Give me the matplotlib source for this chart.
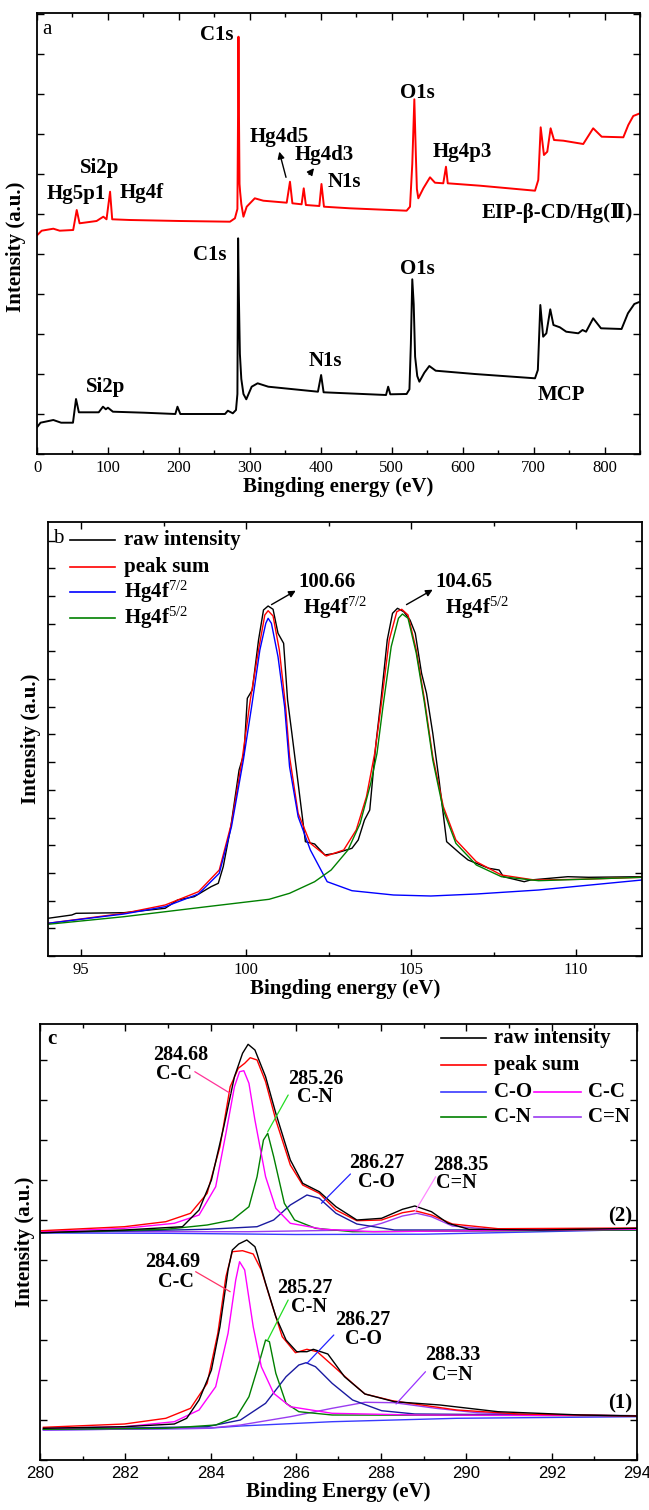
import matplotlib
matplotlib.use("Agg")
import matplotlib.pyplot as plt
from matplotlib.ticker import MultipleLocator

plt.rcParams['font.family'] = ['Liberation Serif', 'DejaVu Serif', 'Noto Sans CJK SC']
plt.rcParams['mathtext.fontset'] = 'custom'
plt.rcParams['mathtext.rm'] = 'Liberation Serif'
plt.rcParams['mathtext.it'] = 'Liberation Serif:italic'
plt.rcParams['mathtext.bf'] = 'Liberation Serif:bold'

# ---------------- panel a : survey spectra ----------------
red_x = [0.5, 6.6, 23, 32, 51, 56, 60, 84, 93.5, 98, 103, 106, 131, 201.6, 272, 279,
         282.5, 283.3, 284, 284.8, 285.5, 286.3, 288, 291, 295.6, 307, 319, 352, 356.6,
         360, 373, 376, 379, 398, 401, 404.5, 441, 521, 525.8, 529, 531.9, 534, 535.5,
         537.5, 544.6, 554, 561, 572.7, 576.5, 579, 624.5, 702, 706.6, 710, 714.6, 719.3,
         724, 728.8, 742, 770, 784, 796, 826.5, 833.5, 840.5, 850]
red_y = [219, 223.3, 225.3, 223.3, 224, 244, 230.7, 233, 237.3, 234.7, 262.3, 234.7, 234,
         233, 232.3, 235.7, 245, 330, 417.3, 330, 270, 262.3, 250, 237.3, 247.3, 255.7,
         253.3, 251.3, 272.3, 250.7, 249.7, 265.7, 249, 248, 270, 247.3, 245.7, 243.3,
         247.3, 290, 354.7, 300, 265, 255.7, 265.7, 276.7, 271.3, 270.7, 287.3, 270.7,
         268.3, 263.3, 274, 326.7, 299, 302.3, 325.7, 314, 313.3, 310, 325.7, 317.3,
         316.7, 329, 338, 340.7]

black_x = [0, 5, 23, 34, 50.7, 55, 59, 87, 93, 97, 100, 107, 151, 195, 198, 202, 265,
           269, 276, 280.5, 282.5, 283.5, 284.5, 286, 288, 291, 295, 302.6, 311, 326, 396,
           400.5, 404, 492, 495, 498, 521, 525, 527, 529, 531, 533, 536, 539, 546, 553,
           562, 617, 702, 706, 709.5, 713.5, 718, 723.5, 728, 737, 746, 763, 769, 774,
           784, 795, 824, 833, 842, 850]
black_y = [26.7, 31.3, 34, 31.3, 31.3, 55, 41.7, 41.7, 47.3, 44.7, 46.3, 42.3, 41.3, 40,
           47.3, 40, 40, 43.3, 40.7, 44, 60, 215.7, 160, 100, 75, 60, 54.7, 67.3, 70.7,
           67.3, 62.3, 79, 61.7, 59, 67.3, 59.7, 60, 64.7, 110, 174.7, 150, 97.3, 78, 72.3,
           81.3, 88, 83.3, 80, 75.7, 84, 149, 117.3, 120.7, 144.7, 129, 126.7, 122.3,
           120.7, 124, 122.3, 135.7, 125.7, 125, 140.7, 150, 152.3]

# peak labels: text, x (eV), y
labels_a = [("C1s", 253, 419), ("Hg4d5", 342, 317), ("Hg4d3", 404.6, 299),
            ("N1s", 432.6, 272), ("Si2p", 88, 285.7), ("Hg5p1", 55, 260),
            ("Hg4f", 148, 260.7), ("O1s", 536, 360.7), ("Hg4p3", 599, 302.3),
            ("EIP-β-CD/Hg(Ⅱ)", 733, 240.7),
            ("C1s", 244, 199), ("N1s", 406, 93.3), ("O1s", 536, 184.7),
            ("Si2p", 97, 67.3), ("MCP", 739, 59)]
arrows_a = [((340.5, 305), (352, 274)), ((393, 288), (381, 277.3))]

# ---------------- panel b : Hg 4f ----------------
b_raw_x = [94.0, 94.72, 94.85, 96.3, 97.55, 97.93, 98.43, 98.94, 99.16, 99.31, 99.54,
           99.79, 99.94, 100.04, 100.19, 100.38, 100.53, 100.67, 100.82, 100.97, 101.14,
           101.26, 101.39, 101.58, 101.8, 102.08, 102.39, 102.71, 103.21, 103.4, 103.59,
           103.75, 103.9, 103.95, 104.09, 104.28, 104.44, 104.59, 104.78, 104.97, 105.13,
           105.32, 105.47, 105.66, 105.85, 106.08, 106.48, 106.73, 107.36, 107.67, 107.8,
           108.43, 108.62, 109.75, 110.38, 112.0]
b_raw_y = [37.7, 41, 42.7, 43.3, 47.7, 56, 59.3, 69.3, 72.7, 89.3, 129.3, 186, 202.7,
           257.7, 266, 316, 346, 350, 346.7, 322.7, 312.7, 256, 222.7, 172.7, 114.3, 112,
           101, 102.7, 107.7, 116, 136, 146, 199.3, 216, 256, 316, 342.7, 347.7, 344.3,
           336, 322.7, 282.7, 262.7, 222.7, 176, 114.3, 102.7, 96, 87.7, 86, 79.3, 74.3,
           76, 79.3, 78.7, 79.3]

b_sum_x = [94.0, 96.3, 97.55, 98.56, 99.19, 99.56, 99.88, 100.13, 100.38, 100.57, 100.67,
           100.82, 101.01, 101.2, 101.32, 101.58, 101.95, 102.43, 102.96, 103.34, 103.65,
           103.9, 104.09, 104.34, 104.57, 104.72, 104.91, 105.16, 105.41, 105.66, 105.98,
           106.36, 106.98, 107.74, 108.74, 110.13, 112.0]
b_sum_y = [32.7, 42.7, 51, 64.3, 86, 132.7, 196, 256, 306, 341, 345.3, 340, 306, 249.3,
           199.3, 142.7, 112.7, 100, 106, 126, 159.3, 202.7, 249.3, 316, 344.3, 346.7, 341,
           306, 256, 199.3, 149.3, 116, 94.3, 81, 76, 76.7, 78.7]

b_72_x = [94.0, 96.3, 97.55, 98.56, 99.19, 99.56, 99.92, 100.17, 100.42, 100.6, 100.67,
          100.77, 100.97, 101.17, 101.32, 101.58, 101.95, 102.46, 103.21, 104.47, 105.6,
          106.98, 108.87, 112.0]
b_72_y = [32.7, 42, 49.3, 62, 82.7, 129.3, 196, 249.3, 306, 332.7, 337.7, 332.7, 299.3,
          249.3, 189.3, 139.3, 106, 74.3, 65.3, 61, 60, 62, 66, 76]

b_52_x = [94.0, 96.3, 98.81, 100.7, 101.32, 102.08, 102.58, 103.09, 103.46, 103.78, 103.97,
          104.15, 104.4, 104.62, 104.74, 104.91, 105.16, 105.41, 105.66, 105.98, 106.36,
          106.98, 107.74, 108.87, 112.0]
b_52_y = [31.7, 39.3, 49.3, 56.7, 62.7, 74.3, 86, 106, 132.7, 172.7, 202.7, 249.3, 309.3,
          337.7, 342, 337.7, 302.7, 252.7, 196, 146, 112.7, 91, 79.3, 75.3, 78.7]

labels_b = [("100.66", 102.46, 374.3), ("Hg4f$^{7/2}$", 102.71, 347.7),
            ("104.65", 106.61, 374.3), ("Hg4f$^{5/2}$", 106.99, 347.7)]
arrows_b = [((101.58, 366.7), (100.7, 350)), ((105.73, 367.7), (104.79, 350))]

# ---------------- panel c : C 1s ----------------
c2_raw_x = [280.03, 281.98, 283.34, 283.73, 284.02, 284.31, 284.56, 284.75, 284.88, 285.04,
            285.29, 285.53, 285.87, 286.16, 286.55, 286.94, 287.43, 288.01, 288.5, 288.79,
            289.18, 289.57, 290.06, 291.71, 294.0]
c2_raw_y = [227.3, 230, 233.3, 250, 280, 333.3, 383.3, 406.7, 415.7, 410, 383.3, 346.7, 300,
            276.7, 268.3, 253.3, 240, 241.7, 250.7, 254, 248.3, 236.7, 230.7, 230, 231.7]
c2_sum_x = [280.03, 281.98, 282.95, 283.53, 283.92, 284.22, 284.46, 284.65, 284.8, 284.93,
            285.09, 285.29, 285.53, 285.87, 286.16, 286.55, 286.94, 287.43, 288.01, 288.5,
            288.79, 289.18, 289.67, 290.74, 294.0]
c2_sum_y = [229.3, 233.3, 238.3, 246.7, 266.7, 313.3, 373.3, 391.7, 396.7, 402.3, 400,
            378.3, 340, 295, 275, 266.7, 250, 239.3, 240, 247.3, 249.3, 245, 236, 231.3, 232]
c2_cc_x = [280.03, 281.98, 283.15, 283.73, 284.12, 284.36, 284.56, 284.68, 284.78, 284.9,
           285.04, 285.29, 285.53, 285.87, 286.65, 287.82, 294.0]
c2_cc_y = [228.3, 231.7, 236.7, 245, 273.3, 326.7, 373.3, 388.3, 389.3, 376.7, 340, 283.3,
           251.7, 236.7, 230.7, 228.3, 230.7]
c2_cn_x = [280.03, 282.95, 283.92, 284.51, 284.9, 285.09, 285.24, 285.34, 285.48, 285.73,
           285.97, 286.46, 287.33, 294.0]
c2_cn_y = [227.3, 230.7, 235, 240, 253.3, 283.3, 320, 326.7, 303.3, 256.7, 240, 231.7,
           228.3, 230]
c2_co_x = [280.03, 283.92, 285.09, 285.48, 285.87, 286.26, 286.55, 286.94, 287.43, 288.31,
           294.0]
c2_co_y = [227.3, 230.7, 233.3, 240, 255, 265, 261.7, 246.7, 236, 230, 230]
c2_cdn_x = [280.03, 284.9, 287.43, 288.01, 288.5, 288.84, 289.18, 289.67, 290.74, 294.0]
c2_cdn_y = [228.3, 228.3, 230, 236.7, 244, 246.7, 243.3, 234, 230, 230.7]
c2_base_x = [280.03, 283.0, 286.0, 289.0, 291.5, 294.0]
c2_base_y = [227.0, 226.7, 225.5, 225.8, 228.0, 230.5]

c1_raw_x = [280.08, 281.98, 283.15, 283.44, 283.73, 284.02, 284.22, 284.41, 284.51, 284.66,
            284.85, 285.04, 285.09, 285.29, 285.53, 285.77, 286.02, 286.26, 286.41, 286.75,
            287.14, 287.62, 288.31, 289.38, 290.74, 292.69, 294.0]
c1_raw_y = [31.7, 33.3, 36, 41.7, 60, 90, 133.3, 190, 210, 216, 220, 213.3, 206.7, 176.7,
            143.3, 120, 108.3, 108.3, 110.7, 106, 83.3, 66, 58.3, 55, 48.3, 45, 44]
c1_sum_x = [280.08, 281.98, 282.95, 283.53, 283.92, 284.17, 284.36, 284.51, 284.75, 285.0,
            285.19, 285.43, 285.68, 285.99, 286.26, 286.5, 286.85, 287.33, 287.62, 288.26,
            288.79, 289.77, 291.23, 294.0]
c1_sum_y = [32.7, 36, 41.7, 51.7, 76.7, 126.7, 183.3, 208.3, 209.3, 206, 190, 156.7, 123.3,
            107.3, 110.7, 108.3, 95, 76.7, 66, 59.3, 56, 50, 46, 44]
c1_cc_x = [280.08, 281.98, 283.15, 283.73, 284.12, 284.41, 284.59, 284.68, 284.8, 285.0,
           285.19, 285.48, 285.87, 286.85, 288.79, 294.0]
c1_cc_y = [31.7, 33.3, 38.3, 50, 73.3, 126.7, 180, 198.3, 190, 133.3, 93.3, 66.7, 53.3,
           46.7, 45, 44.3]
c1_cn_x = [280.08, 282.95, 284.12, 284.61, 284.9, 285.09, 285.29, 285.38, 285.53, 285.77,
           286.07, 286.85, 294.0]
c1_cn_y = [30.7, 31.7, 35, 43.3, 63.3, 90, 120, 118.3, 86.7, 56.7, 48.3, 45, 44.3]
c1_co_x = [280.08, 283.92, 284.7, 285.29, 285.77, 286.07, 286.24, 286.46, 286.85, 287.33,
           288.01, 288.79, 294.0]
c1_co_y = [30.7, 33.3, 40, 56.7, 83.3, 95, 97.3, 93.3, 76.7, 60, 49.3, 46, 44.3]
c1_cdn_x = [280.08, 283.92, 284.7, 285.87, 286.85, 287.62, 288.31, 289.28, 290.25, 291.71,
            294.0]
c1_cdn_y = [30, 31.7, 35, 43.3, 51.7, 57.7, 57.3, 51.7, 47.3, 45, 44]
c1_base_x = [280.08, 283.92, 284.7, 286.85, 289.77, 294.0]
c1_base_y = [30, 31.7, 34, 38.3, 41.7, 43.3]

labels_c = [("284.68", 283.29, 405), ("C-C", 283.15, 386), ("285.26", 286.46, 381),
            ("C-N", 286.46, 362.7), ("286.27", 287.9, 297), ("C-O", 287.88, 277.7),
            ("288.35", 289.86, 295), ("C=N", 289.77, 276.7),
            ("284.69", 283.1, 197.7), ("C-C", 283.19, 178.3), ("285.27", 286.21, 172),
            ("C-N", 286.31, 153.3), ("286.27", 287.58, 140), ("C-O", 287.58, 120.7),
            ("288.33", 289.67, 104.5), ("C=N", 289.67, 85)]
pointers_c = [((283.63, 388.3), (284.46, 366.7), "#ff3399"),
              ((285.82, 365), (285.34, 328.3), "#22dd22"),
              ((287.28, 286), (286.6, 256.7), "#2222ff"),
              ((289.28, 283.3), (288.79, 248.3), "#ff88ff"),
              ((283.65, 188.3), (284.46, 168.3), "#ff3366"),
              ((285.82, 160), (285.34, 120), "#22dd22"),
              ((286.89, 125), (286.26, 96.7), "#2222ff"),
              ((289.04, 88.3), (288.35, 56), "#9933ff")]

RED = "#ff0000"
BLUE = "#0000ff"
GREEN = "#008000"
MAGENTA = "#ff00ff"
NAVY = "#1a1aa0"
PURPLE = "#9a3cf0"
BASE = "#3a3aff"


def style(ax, fs, fam):
    ax.tick_params(which='both', direction='in', top=True, right=True, labelleft=False)
    ax.tick_params(which='major', length=5, width=1, labelsize=fs, pad=4)
    ax.tick_params(which='minor', length=3, width=1)
    for lab in ax.get_xticklabels():
        lab.set_family(fam)
    for s in ax.spines.values():
        s.set_linewidth(1.3)


def hand_legend(ax, rows):
    # rows: (x0, x1, xtext, y, colour, text)
    for x0, x1, xt, y, col, txt in rows:
        ax.plot([x0, x1], [y, y], color=col, lw=1.2, transform=ax.transAxes)
        ax.text(xt, y, txt, transform=ax.transAxes, fontsize=15, fontweight='bold',
                va='center', ha='left')


fig = plt.figure(figsize=(6.49, 15.10), dpi=100)
ax_a = fig.add_axes([37 / 649, 1 - 454 / 1510, 603 / 649, 441 / 1510])
ax_b = fig.add_axes([48 / 649, 1 - 956 / 1510, 594 / 649, 434 / 1510])
ax_c = fig.add_axes([40 / 649, 1 - 1460 / 1510, 597 / 649, 436 / 1510])

# ---- a ----
ax_a.plot(red_x, red_y, color=RED, lw=1.4)
ax_a.plot(black_x, black_y, color='black', lw=1.4)
for txt, x, y in labels_a:
    ax_a.text(x, y, txt, fontsize=15, fontweight='bold', ha='center', va='center')
for head, tail in arrows_a:
    ax_a.annotate('', xy=head, xytext=tail,
                  arrowprops=dict(arrowstyle='-|>', color='black', lw=1, mutation_scale=10))
ax_a.text(0.008, 0.985, "a", transform=ax_a.transAxes, fontsize=15, va='top', ha='left')
ax_a.set_xlim(0, 850)
ax_a.set_ylim(0, 441)
ax_a.xaxis.set_major_locator(MultipleLocator(100))
ax_a.xaxis.set_minor_locator(MultipleLocator(50))
ax_a.yaxis.set_major_locator(MultipleLocator(40))
style(ax_a, 12, 'Liberation Serif')
ax_a.set_xlabel("Bingding energy (eV)", fontsize=15, fontweight='bold', labelpad=1)
ax_a.set_ylabel("Intensity (a.u.)", fontsize=15, fontweight='bold', va='center')
ax_a.yaxis.set_label_coords(-0.034, 0.47)

# ---- b ----
ax_b.plot(b_raw_x, b_raw_y, color='black', lw=1.0)
ax_b.plot(b_sum_x, b_sum_y, color=RED, lw=1.0)
ax_b.plot(b_72_x, b_72_y, color=BLUE, lw=1.0)
ax_b.plot(b_52_x, b_52_y, color=GREEN, lw=1.0)
for txt, x, y in labels_b:
    ax_b.text(x, y, txt, fontsize=15, fontweight='bold', ha='center', va='center')
for head, tail in arrows_b:
    ax_b.annotate('', xy=head, xytext=tail,
                  arrowprops=dict(arrowstyle='-|>', color='black', lw=1, mutation_scale=10))
ax_b.text(0.009, 0.962, "b", transform=ax_b.transAxes, fontsize=15, va='center', ha='left')
hand_legend(ax_b, [
    (0.037, 0.113, 0.1275, 0.9585, 'black', "raw intensity"),
    (0.037, 0.113, 0.1275, 0.897, RED, "peak sum"),
    (0.037, 0.113, 0.1275, 0.839, BLUE, "Hg4f$^{7/2}$"),
    (0.037, 0.113, 0.1275, 0.778, GREEN, "Hg4f$^{5/2}$"),
])
ax_b.set_xlim(94, 112)
ax_b.set_ylim(0, 434)
ax_b.xaxis.set_major_locator(MultipleLocator(5))
ax_b.xaxis.set_minor_locator(MultipleLocator(2.5))
ax_b.yaxis.set_major_locator(MultipleLocator(27.7))
style(ax_b, 12, 'Liberation Serif')
ax_b.set_xlabel("Bingding energy (eV)", fontsize=15, fontweight='bold', labelpad=1)
ax_b.set_ylabel("Intensity (a.u.)", fontsize=15, fontweight='bold', va='center')
ax_b.yaxis.set_label_coords(-0.029, 0.5)

# ---- c ----
for xs, ys, col in [(c2_base_x, c2_base_y, BASE), (c2_cdn_x, c2_cdn_y, PURPLE),
                    (c2_co_x, c2_co_y, NAVY), (c2_cn_x, c2_cn_y, GREEN),
                    (c2_cc_x, c2_cc_y, MAGENTA), (c2_sum_x, c2_sum_y, RED),
                    (c2_raw_x, c2_raw_y, 'black'),
                    (c1_base_x, c1_base_y, BASE), (c1_cdn_x, c1_cdn_y, PURPLE),
                    (c1_co_x, c1_co_y, NAVY), (c1_cn_x, c1_cn_y, GREEN),
                    (c1_cc_x, c1_cc_y, MAGENTA), (c1_sum_x, c1_sum_y, RED),
                    (c1_raw_x, c1_raw_y, 'black')]:
    ax_c.plot(xs, ys, color=col, lw=1.0)
for txt, x, y in labels_c:
    ax_c.text(x, y, txt, fontsize=14.5, fontweight='bold', ha='center', va='center')
for start, end, col in pointers_c:
    ax_c.annotate('', xy=end, xytext=start,
                  arrowprops=dict(arrowstyle='-', color=col, lw=0.9, shrinkA=0, shrinkB=0))
ax_c.text(293.9, 243.3, "(2)", fontsize=15, fontweight='bold', ha='right', va='center')
ax_c.text(293.9, 56.7, "(1)", fontsize=15, fontweight='bold', ha='right', va='center')
ax_c.text(0.012, 0.988, "c", transform=ax_c.transAxes, fontsize=15, fontweight='bold',
          va='top', ha='left')
hand_legend(ax_c, [
    (0.672, 0.747, 0.761, 0.968, 'black', "raw intensity"),
    (0.672, 0.747, 0.761, 0.906, RED, "peak sum"),
    (0.672, 0.747, 0.761, 0.844, BASE, "C-O"),
    (0.828, 0.907, 0.918, 0.844, MAGENTA, "C-C"),
    (0.672, 0.747, 0.761, 0.787, GREEN, "C-N"),
    (0.828, 0.907, 0.918, 0.787, PURPLE, "C=N"),
])
ax_c.set_xlim(280, 294)
ax_c.set_ylim(0, 436)
ax_c.xaxis.set_major_locator(MultipleLocator(2))
ax_c.xaxis.set_minor_locator(MultipleLocator(1))
ax_c.yaxis.set_major_locator(MultipleLocator(40))
style(ax_c, 12, 'Liberation Sans')
ax_c.set_xlabel("Binding Energy (eV)", fontsize=15, fontweight='bold', labelpad=1)
ax_c.set_ylabel("Intensity (a.u.)", fontsize=15, fontweight='bold', va='center')
ax_c.yaxis.set_label_coords(-0.025, 0.5)

fig.savefig("out.png", dpi=100)
